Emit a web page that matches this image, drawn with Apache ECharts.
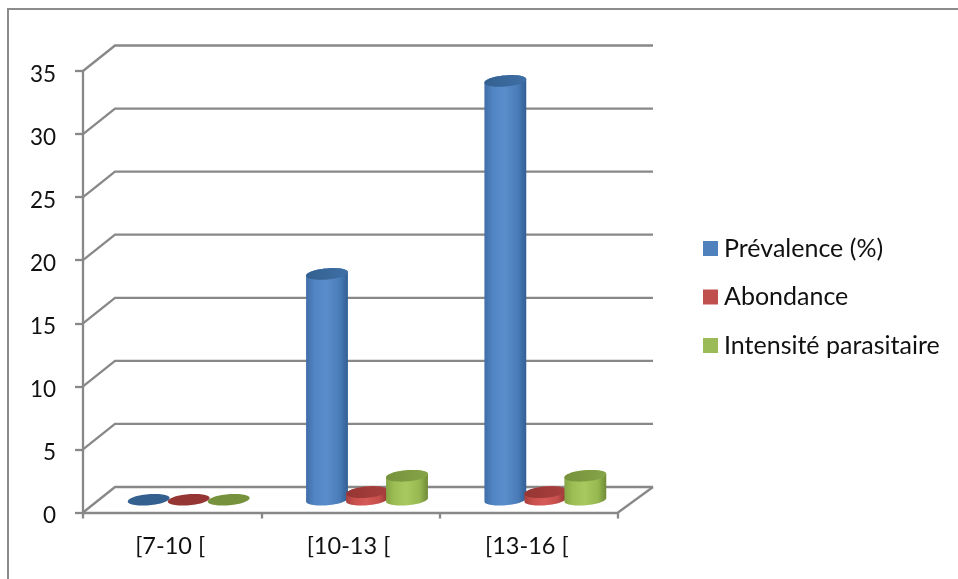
<!DOCTYPE html>
<html>
<head>
<meta charset="utf-8">
<style>html,body{margin:0;padding:0;background:#fff}#chart{width:958px;height:579px}</style>
<script src="https://cdn.jsdelivr.net/npm/echarts@6/dist/echarts.min.js"></script>
</head>
<body>
<div id="chart"></div>
<script>
const categories = ['[7-10 [', '[10-13 [', '[13-16 ['];
const prevalence = [0, 17.9, 33.2];
const abondance = [0, 0.6, 0.6];
const intensite = [0, 1.9, 1.9];
const yTicks = [0, 5, 10, 15, 20, 25, 30, 35];

const FONT = 'Lato';
const AXIS_COLOR = '#888888';
const INK = '#111111';

// Oblique projection of the chart box: the back wall sits up and to the right of the front plane.
const DEPTH_X = 32, DEPTH_X_RIGHT = 35, DEPTH_Y = -25.5;

const barStyles = [
  { name: 'Prévalence (%)', values: prevalence, swatch: '#4F81BD', flat: '#33608f', cap: ['#33608f', '#3f6fa6'],
    body: ['#3f6ea8', '#5285c4', '#5a8dcb', '#4a7cb8', '#325f94'] },
  { name: 'Abondance', values: abondance, swatch: '#C0504D', flat: '#963634', cap: ['#963634', '#a8403d'],
    body: ['#a8413e', '#c8504d', '#d65a57', '#c44e4b', '#923331'] },
  { name: 'Intensité parasitaire', values: intensite, swatch: '#9BBB59', flat: '#76923c', cap: ['#76923c', '#86a448'],
    body: ['#85a544', '#9dbe55', '#a8c95f', '#97b850', '#6f8b36'] }
];

// Points of a slightly tilted ellipse between two parameter angles.
function ellipseArc(cx, cy, rx, ry, from, to, steps) {
  const tilt = -5 * Math.PI / 180, pts = [];
  for (let i = 0; i <= steps; i++) {
    const t = from + (to - from) * i / steps;
    const ex = rx * Math.cos(t), ey = ry * Math.sin(t);
    pts.push([cx + ex * Math.cos(tilt) - ey * Math.sin(tilt),
              cy + ex * Math.sin(tilt) + ey * Math.cos(tilt)]);
  }
  return pts;
}

function cylinderSeries(style, seriesIndex) {
  return {
    name: style.name,
    type: 'custom',
    itemStyle: { color: style.swatch },
    data: style.values.map((v, i) => [i, v]),
    encode: { x: 0, y: 1 },
    clip: false,
    z: 5 + seriesIndex,
    renderItem(params, api) {
      const value = api.value(1);
      const band = api.size([1, 0])[0];
      const shift = (seriesIndex - 1) * band * 0.2243;
      const base = api.coord([api.value(0), 0]);
      const top = api.coord([api.value(0), value]);
      const cx = base[0] + DEPTH_X / 2 + 0.5 + shift;
      const by = base[1] + DEPTH_Y / 2;
      const ty = top[1] + DEPTH_Y / 2;
      const rx = 21, ry = 5.6;
      const children = [];
      if (value > 0) {
        const bottomArc = ellipseArc(cx, by, rx, ry, 0, Math.PI, 30);
        const topArc = ellipseArc(cx, ty, rx, ry, Math.PI, 2 * Math.PI, 30);
        const b = style.body;
        children.push({
          type: 'polygon',
          shape: { points: bottomArc.concat(topArc) },
          style: {
            fill: new echarts.graphic.LinearGradient(0, 0, 1, 0, [
              { offset: 0, color: b[0] }, { offset: 0.2, color: b[1] },
              { offset: 0.48, color: b[2] }, { offset: 0.8, color: b[3] }, { offset: 1, color: b[4] }
            ])
          }
        });
        children.push({
          type: 'polygon',
          shape: { points: ellipseArc(cx, ty, rx, ry, 0, 2 * Math.PI, 60) },
          style: {
            fill: new echarts.graphic.LinearGradient(0, 0, 1, 0, [
              { offset: 0, color: style.cap[0] }, { offset: 1, color: style.cap[1] }
            ])
          }
        });
      } else {
        children.push({
          type: 'polygon',
          shape: { points: ellipseArc(cx, by, rx, ry, 0, 2 * Math.PI, 60) },
          style: { fill: style.flat }
        });
      }
      return { type: 'group', children };
    }
  };
}

// Gridlines running across the side wall and the back wall, plus the floor outline.
const wallSeries = {
  name: 'wall',
  type: 'custom',
  data: yTicks.map(v => [0, v]),
  encode: { x: 0, y: 1 },
  clip: false,
  silent: true,
  z: 1,
  renderItem(params, api) {
    const left = params.coordSys.x;
    const right = left + params.coordSys.width;
    const v = api.value(1);
    const y = api.coord([0, v])[1];
    const lineStyle = { stroke: AXIS_COLOR, lineWidth: 2.3, fill: null };
    const children = [{
      type: 'polyline',
      shape: { points: [[left, y], [left + DEPTH_X, y + DEPTH_Y], [right + DEPTH_X_RIGHT, y + DEPTH_Y]] },
      style: lineStyle
    }];
    if (v === 0) {
      children.push({
        type: 'line',
        shape: { x1: right, y1: y, x2: right + DEPTH_X_RIGHT, y2: y + DEPTH_Y },
        style: lineStyle
      });
    }
    return { type: 'group', children };
  }
};

const chart = echarts.init(document.getElementById('chart'), null, { renderer: 'canvas' });
chart.setOption({
  backgroundColor: '#ffffff',
  animation: false,
  textStyle: { fontFamily: FONT },
  grid: { left: 83, right: 340, top: 71, bottom: 66.5, containLabel: false },
  xAxis: {
    type: 'category',
    data: categories,
    axisLine: { show: true, lineStyle: { color: AXIS_COLOR, width: 2.3 } },
    axisTick: { show: true, length: 6, alignWithLabel: false, lineStyle: { color: AXIS_COLOR, width: 2.3 } },
    axisLabel: { color: INK, fontFamily: FONT, fontSize: 23.5, margin: 22, padding: [0, 4, 0, 0] },
    splitLine: { show: false }
  },
  yAxis: {
    type: 'value',
    min: 0,
    max: 35,
    interval: 5,
    axisLine: { show: true, lineStyle: { color: AXIS_COLOR, width: 2.3 } },
    axisTick: { show: true, length: 8, lineStyle: { color: AXIS_COLOR, width: 2.3 } },
    axisLabel: { color: INK, fontFamily: FONT, fontSize: 22.5, margin: 27, verticalAlign: 'top', lineHeight: 7 },
    splitLine: { show: false }
  },
  legend: {
    data: barStyles.map(s => s.name),
    orient: 'vertical',
    left: 703,
    top: 236,
    icon: 'rect',
    itemWidth: 15,
    itemHeight: 15,
    itemGap: 23.5,
    selectedMode: false,
    textStyle: { color: INK, fontFamily: FONT, fontSize: 25, padding: [0, 0, 0, 1] },
    padding: 0
  },
  graphic: [{
    type: 'polyline',
    shape: { points: [[8, 579], [8, 9], [958, 9]] },
    style: { stroke: '#8c8c8c', lineWidth: 2, fill: null },
    z: 0
  }],
  series: [wallSeries].concat(barStyles.map(cylinderSeries))
});
</script>
</body>
</html>
